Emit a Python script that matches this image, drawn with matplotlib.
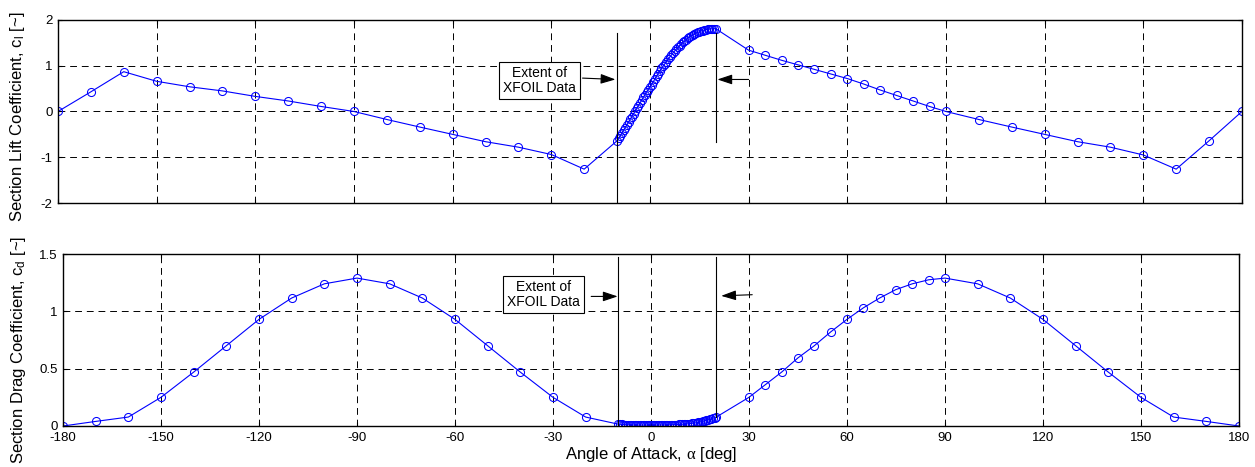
import numpy as np
import matplotlib
matplotlib.use("Agg")
import matplotlib.pyplot as plt

plt.rcParams['font.family'] = ['Liberation Sans', 'DejaVu Sans']
plt.rcParams['font.size'] = 10
plt.rcParams['axes.unicode_minus'] = False
plt.rcParams['mathtext.fontset'] = 'custom'
plt.rcParams['mathtext.rm'] = 'Liberation Sans'
plt.rcParams['mathtext.it'] = 'Liberation Serif'

# post-stall extrapolation, negative side
alpha_lo = [-180, -170, -160, -150, -140, -130, -120, -110, -100, -90,
            -80, -70, -60, -50, -40, -30, -20]
cl_lo = [0.0, 0.43, 0.87, 0.66, 0.54, 0.45, 0.33, 0.23, 0.11, 0.0,
         -0.175, -0.34, -0.50, -0.66, -0.78, -0.94, -1.26]
cd_lo = [0.0, 0.04, 0.078, 0.25, 0.47, 0.70, 0.93, 1.116, 1.24, 1.29,
         1.24, 1.116, 0.93, 0.70, 0.47, 0.25, 0.078]

# XFOIL polar
alpha_xf = [-10.0, -9.5, -9.0, -8.5, -8.0, -7.5, -7.0, -6.5, -6.0, -5.5,
            -5.0, -4.5, -4.0, -3.5, -3.0, -2.5, -2.0, -1.5, -1.0, -0.5,
            0.0, 0.5, 1.0, 1.5, 2.0, 2.5, 3.0, 3.5, 4.0, 4.5,
            5.0, 5.5, 6.0, 6.5, 7.0, 7.5, 8.0, 8.5, 9.0, 9.5,
            10.0, 10.5, 11.0, 11.5, 12.0, 12.5, 13.0, 13.5, 14.0, 14.5,
            15.0, 15.5, 16.0, 16.5, 17.0, 17.5, 18.0, 18.5, 19.0, 19.5, 20.0]
cl_xf = [-0.64, -0.59, -0.53, -0.47, -0.41, -0.35, -0.29, -0.23, -0.17, -0.11,
         -0.05, 0.01, 0.07, 0.13, 0.19, 0.25, 0.31, 0.37, 0.43, 0.48,
         0.53, 0.59, 0.65, 0.71, 0.77, 0.83, 0.88, 0.94, 0.99, 1.04,
         1.09, 1.14, 1.19, 1.23, 1.28, 1.32, 1.36, 1.40, 1.44, 1.47,
         1.51, 1.54, 1.57, 1.60, 1.63, 1.65, 1.67, 1.69, 1.71, 1.73,
         1.74, 1.76, 1.77, 1.78, 1.79, 1.795, 1.80, 1.805, 1.81, 1.81, 1.81]
cd_xf = [0.016, 0.015, 0.014, 0.013, 0.012, 0.011, 0.011, 0.010, 0.010, 0.009,
         0.009, 0.009, 0.008, 0.008, 0.008, 0.008, 0.008, 0.008, 0.008, 0.008,
         0.008, 0.008, 0.008, 0.008, 0.008, 0.009, 0.009, 0.009, 0.009, 0.010,
         0.010, 0.010, 0.011, 0.011, 0.012, 0.012, 0.013, 0.014, 0.014, 0.015,
         0.016, 0.017, 0.018, 0.020, 0.021, 0.023, 0.025, 0.027, 0.029, 0.032,
         0.035, 0.038, 0.041, 0.045, 0.049, 0.053, 0.058, 0.063, 0.068, 0.073, 0.078]

# post-stall extrapolation, positive side
alpha_hi = [30, 35, 40, 45, 50, 55, 60, 65, 70, 75, 80, 85, 90,
            100, 110, 120, 130, 140, 150, 160, 170, 180]
cl_hi = [1.34, 1.23, 1.12, 1.02, 0.92, 0.82, 0.72, 0.60, 0.47, 0.35, 0.23, 0.11, 0.0,
         -0.175, -0.34, -0.50, -0.66, -0.78, -0.95, -1.26, -0.64, 0.0]
cd_hi = [0.25, 0.36, 0.47, 0.594, 0.70, 0.82, 0.93, 1.03, 1.116, 1.19, 1.24, 1.275, 1.29,
         1.24, 1.116, 0.93, 0.70, 0.47, 0.25, 0.078, 0.04, 0.0]

alpha = np.concatenate([alpha_lo, alpha_xf, alpha_hi])
cl = np.concatenate([cl_lo, cl_xf, cl_hi])
cd = np.concatenate([cd_lo, cd_xf, cd_hi])

xticks = [-180, -150, -120, -90, -60, -30, 0, 30, 60, 90, 120, 150, 180]
xf_lo, xf_hi = -10, 20

fig = plt.figure(figsize=(12.55, 4.67), dpi=100)
ax1 = fig.add_axes([0.0462, 0.5653, 0.9434, 0.3919])
ax2 = fig.add_axes([0.0502, 0.0878, 0.9370, 0.3683])

line_kw = dict(color='blue', lw=0.8, marker='o', ms=5.8, mfc='none',
               mec='blue', mew=0.75)
arrow_kw = dict(arrowstyle='-|>,head_length=0.9,head_width=0.3',
                color='black', lw=0.8, shrinkA=0, shrinkB=0)
box_kw = dict(boxstyle='square,pad=0.3', fc='white', ec='black', lw=0.8)


def style(ax):
    ax.set_xlim(-180, 180)
    ax.set_xticks(xticks)
    ax.grid(True, color='black', lw=0.7, ls=(0, (7, 5)))
    ax.tick_params(direction='in', length=3, top=True, right=True,
                   labelsize=9.5, pad=4)
    for s in ax.spines.values():
        s.set_linewidth(1.0)


# lift
ax1.plot(alpha, cl, **line_kw)
style(ax1)
ax1.set_ylim(-2, 2)
ax1.set_yticks([-2, -1, 0, 1, 2])
ax1.set_xticklabels([])
ax1.set_ylabel('Section Lift Coefficient, c$_{\\mathrm{l}}$ [~]', fontsize=12)
ax1.yaxis.set_label_coords(-0.026, 0.47)
ax1.plot([xf_lo, xf_lo], [-2, 1.71], color='black', lw=0.8)
ax1.plot([xf_hi, xf_hi], [-0.67, 1.71], color='black', lw=0.8)
ax1.annotate('', xy=(-10.5, 0.70), xytext=(-20.5, 0.73), arrowprops=arrow_kw)
ax1.annotate('', xy=(20.5, 0.70), xytext=(30, 0.70), arrowprops=arrow_kw)
ax1.text(-33.5, 0.68, 'Extent of\nXFOIL Data', ha='center', va='center',
         fontsize=10, linespacing=1.05, bbox=box_kw)

# drag
ax2.plot(alpha, cd, **line_kw)
style(ax2)
ax2.set_ylim(0, 1.5)
ax2.set_yticks([0, 0.5, 1, 1.5])
ax2.set_yticklabels(['0', '0.5', '1', '1.5'])
ax2.set_xticklabels([str(t) for t in xticks])
ax2.set_ylabel('Section Drag Coefficient, c$_{\\mathrm{d}}$ [~]', fontsize=12)
ax2.yaxis.set_label_coords(-0.030, 0.44)
ax2.set_xlabel('Angle of Attack, $\\alpha$ [deg]', fontsize=12, labelpad=1)
ax2.plot([xf_lo, xf_lo], [0, 1.476], color='black', lw=0.8)
ax2.plot([xf_hi, xf_hi], [0.08, 1.476], color='black', lw=0.8)
ax2.annotate('', xy=(-10.2, 1.13), xytext=(-18.3, 1.13), arrowprops=arrow_kw)
ax2.annotate('', xy=(21.5, 1.135), xytext=(31, 1.145), arrowprops=arrow_kw)
ax2.text(-32.9, 1.146, 'Extent of\nXFOIL Data', ha='center', va='center',
         fontsize=10, linespacing=1.05, bbox=box_kw)

fig.savefig('out.png', dpi=100)
